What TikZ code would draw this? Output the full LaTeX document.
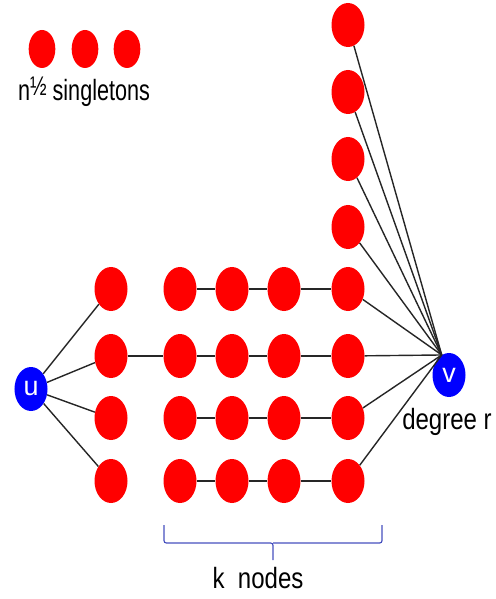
\documentclass[tikz,border=0pt]{standalone}
\usepackage{fontspec}
\setmainfont{Liberation Sans}
\usetikzlibrary{shapes.geometric}
\definecolor{bracecol}{RGB}{70,80,190}

\begin{document}
\begin{tikzpicture}[
 x=0.03cm,y=-0.03cm,
 dot/.style={ellipse,fill=red,inner sep=0pt,minimum width=0.99cm,minimum height=1.32cm},
 single/.style={dot,minimum width=0.8cm,minimum height=1.14cm},
 endpt/.style={dot,fill=blue,text=white,font=\fontsize{23}{25}\selectfont},
 lbl/.style={inner sep=0pt,font=\fontsize{25}{29}\selectfont,xscale=0.82},
 edge/.style={draw=black!85,line width=1.2pt},
 bracket/.style={draw=bracecol,line width=1pt,rounded corners=2pt}
]
\useasboundingbox (0,0) rectangle (495,599);
% singletons
\node[single] (s1) at (42,49) {};
\node[single] (s2) at (85,49) {};
\node[single] (s3) at (127,49) {};
\node[lbl,xscale=0.9] (sgl) at (84,92) {n\raisebox{0.35ex}{\fontsize{23}{23}\selectfont ½} singletons};
% u and its neighbours
\node[endpt] (u) at (31,389) {u};
\node[dot] (a1) at (111,289) {};
\node[dot] (a2) at (111,356) {};
\node[dot] (a3) at (111,418) {};
\node[dot] (a4) at (111,481) {};
% paths of k nodes
\node[dot] (b1) at (180,289) {};
\node[dot] (b2) at (180,356) {};
\node[dot] (b3) at (180,418) {};
\node[dot] (b4) at (180,481) {};
\node[dot] (c1) at (232,289) {};
\node[dot] (c2) at (232,356) {};
\node[dot] (c3) at (232,418) {};
\node[dot] (c4) at (232,481) {};
\node[dot] (d1) at (284,289) {};
\node[dot] (d2) at (284,356) {};
\node[dot] (d3) at (284,418) {};
\node[dot] (d4) at (284,481) {};
\node[dot] (e1) at (348,289) {};
\node[dot] (e2) at (348,356) {};
\node[dot] (e3) at (348,418) {};
\node[dot] (e4) at (348,481) {};
% extra neighbours of v
\node[dot] (t1) at (348,25) {};
\node[dot] (t2) at (348,92) {};
\node[dot] (t3) at (348,159) {};
\node[dot] (t4) at (348,227) {};
\node[endpt] (v) at (449,375) {v};
\node[lbl] (deg) at (447,422) {degree r};
\draw[edge] (u) -- (a1);
\draw[edge] (u) -- (a2);
\draw[edge] (u) -- (a3);
\draw[edge] (u) -- (a4);
\draw[edge] (a2) -- (b2);
\draw[edge] (b1) -- (c1) -- (d1) -- (e1);
\draw[edge] (b2) -- (c2) -- (d2) -- (e2);
\draw[edge] (b3) -- (c3) -- (d3) -- (e3);
\draw[edge] (b4) -- (c4) -- (d4) -- (e4);
\draw[edge] (t1) -- (v.110);
\draw[edge] (t2) -- (v.110);
\draw[edge] (t3) -- (v.110);
\draw[edge] (t4) -- (v.110);
\draw[edge] (e1) -- (v.110);
\draw[edge] (e2) -- (v.110);
\draw[edge] (e3) -- (v.110);
\draw[edge] (e4) -- (v.110);
% bracket under the paths
\coordinate (bl) at (164,525);
\coordinate (br) at (382,525);
\coordinate (bmid) at (273,543);
\coordinate (btip) at (273,560);
\draw[bracket] (bl) |- (bmid) -- (btip);
\draw[bracket] (bmid) -| (br);
\node[lbl] (knodes) at (258,578) {k~~nodes};
\end{tikzpicture}
\end{document}
